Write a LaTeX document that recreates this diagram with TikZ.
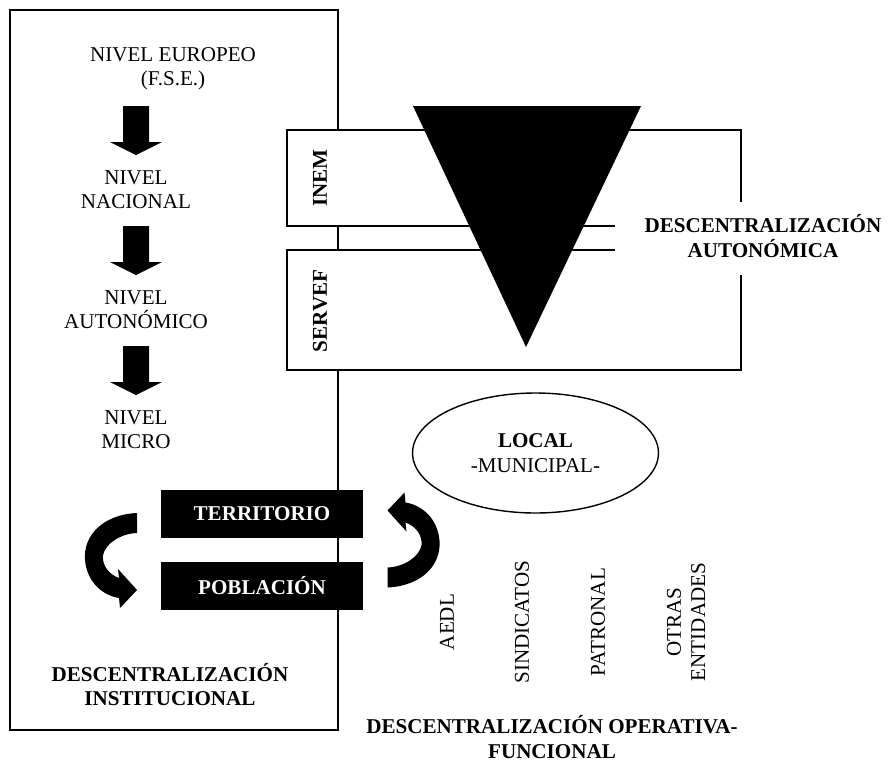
\documentclass[tikz,border=0pt]{standalone}
\usepackage{fontspec}
\setmainfont{Liberation Serif}
\usetikzlibrary{shapes.geometric}

\tikzset{
    texto/.style={align=center, inner sep=0pt, font=\fontsize{12}{13.8}\selectfont},
    negrita/.style={texto, font=\fontsize{12}{13.8}\selectfont\bfseries},
    bloque/.style={negrita, fill=black, text=white, minimum width=4.04cm, minimum height=0.96cm},
    vertical/.style={texto, rotate=90},
    curva/.pic={
        \fill (26,-47.5) .. controls (-8,-46) and (-28,-25) .. (-26,-0.5)
            .. controls (-24,22) and (-8,35) .. (8,37.5) -- (9,47.5) -- (26,29.5)
            -- (7,8.5) -- (8,17.5) .. controls (-2,14) and (-9,5) .. (-8,-5)
            .. controls (-6,-17) and (10,-27) .. (26,-27.5) -- cycle;
    },
}

\begin{document}
\begin{tikzpicture}[x=0.02cm, y=-0.02cm, line width=0.8pt]
        \useasboundingbox (0,0) rectangle (888,764);
        \draw (10,10) rectangle (338,730);

        \fill [white] (287,130) rectangle (741,226);
        \fill [white] (287,250) rectangle (741,370);
        \draw (615,226) -- (287,226) -- (287,130) -- (741,130) -- (741,202);
        \draw (615,250) -- (287,250) -- (287,370) -- (741,370) -- (741,275);
        \fill (413,106) -- (641,106) -- (526,347) -- cycle;

        \foreach \y in {106,226,346}
            \fill (123,\y) -- (149,\y) -- (149,\y+36) -- (162,\y+36) -- (136,\y+49) -- (110,\y+36) -- (123,\y+36) -- cycle;

        \node [texto] (europeo) at (173,68.5) {NIVEL EUROPEO\\(F.S.E.)};
        \node [texto] (nacional) at (136,190) {NIVEL\\NACIONAL};
        \node [texto] (autonomico) at (136,310) {NIVEL\\AUTONÓMICO};
        \node [texto] (micro) at (136,429.5) {NIVEL\\MICRO};

        \node [negrita, rotate=90] (inem) at (320,178) {INEM};
        \node [negrita, rotate=90] (servef) at (320,311) {SERVEF};
        \node [negrita] (autonomica) at (763,236) {DESCENTRALIZACIÓN\\AUTONÓMICA};

        \node [bloque] (territorio) at (262,514) {TERRITORIO};
        \node [bloque] (poblacion) at (262,586) {POBLACIÓN};
        \pic (giroizq) at (111,560.5) {curva};
        \pic [rotate=180] (giroder) at (413.5,540) {curva};

        \node [draw, ellipse, texto, minimum width=4.92cm, minimum height=2.4cm] (local) at (535.5,453) {\textbf{LOCAL}\\-MUNICIPAL-};

        \node [vertical] (aedl) at (447,622) {AEDL};
        \node [vertical] (sindicatos) at (522,622) {SINDICATOS};
        \node [vertical] (patronal) at (598,622) {PATRONAL};
        \node [vertical] (otras) at (686,622) {OTRAS\\ENTIDADES};

        \node [negrita] (institucional) at (170,684.5) {DESCENTRALIZACIÓN\\INSTITUCIONAL};
        \node [negrita] (operativa) at (552,737) {DESCENTRALIZACIÓN OPERATIVA-\\FUNCIONAL};
\end{tikzpicture}
\end{document}
